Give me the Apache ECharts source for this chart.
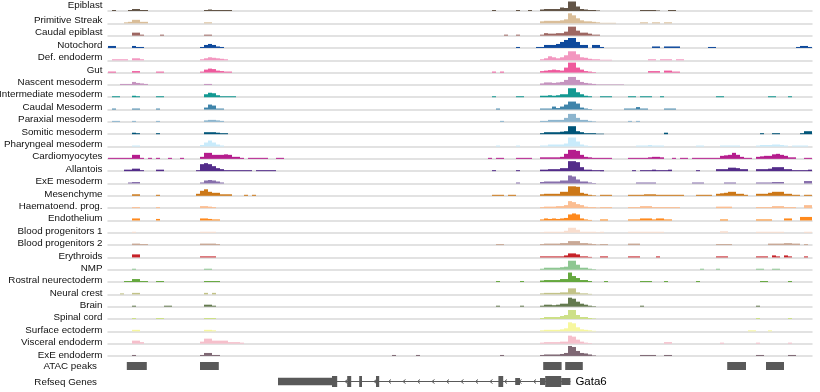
<!DOCTYPE html>
<html><head><meta charset="utf-8">
<script src="https://cdn.jsdelivr.net/npm/echarts@6/dist/echarts.min.js"></script>
<style>html,body{margin:0;padding:0;background:#fff}#c{width:820px;height:392px}</style>
</head><body><div id="c"></div>
<script>
// ---------- DATA ----------
const trackNames = ["Epiblast","Primitive Streak","Caudal epiblast","Notochord","Def. endoderm","Gut","Nascent mesoderm","Intermediate mesoderm","Caudal Mesoderm","Paraxial mesoderm","Somitic mesoderm","Pharyngeal mesoderm","Cardiomyocytes","Allantois","ExE mesoderm","Mesenchyme","Haematoend. prog.","Endothelium","Blood progenitors 1","Blood progenitors 2","Erythroids","NMP","Rostral neurectoderm","Neural crest","Brain","Spinal cord","Surface ectoderm","Visceral endoderm","ExE endoderm"];
const trackColors = ["#635547","#DABE99","#9e6762","#0F4A9C","#F397C0","#EF5A9D","#C594BF","#139992","#3F84AA","#8DB5CE","#005579","#C9EBFB","#B51D8D","#532C8A","#8870ad","#cc7818","#FBBE92","#ff891c","#f9decf","#c9a997","#C72228","#8EC792","#65A83E","#C3C388","#647a4f","#CDE088","#f7f79e","#F6BFCB","#7F6874"];
// runs: [startBin, value, value, ...] ; bins are genomic windows across the locus
const epiblast = [[1,1],[5,1,2,2,1,1],[24,1,1.5,1,1,1,1,1],[96,1],[102,1],[105,1],[108,1.5,2,2,2,2,3.5,3,9.5,9.5,4.5,2,1.5,1,1,0.5],[133,1,1,1,1,0.5],[140,1,1]];
const primitiveStreak = [[4,1,1.5,3.5,3.5,1.5,1.5],[24,1,1],[108,2,2.5,2.5,2.5,2.5,3,4,10,8,5,3,2,2,1.5,1,0.5,0.5,0.5,0.5],[133,1,1,0,1,1,0,1,1]];
const caudalEpiblast = [[6,3,3,1],[13,1],[24,1,1],[99,1],[102,1],[108,1,2.5,2,2,2.5,2.5,4,9,9,5,3,3,2,1,1]];
const notochord = [[0,2,2],[6,2,1,1],[23,1,3,4,3,1.5,1],[102,1],[107,1,1,3,3,3,4,6,8,10,10,6,3,3,0,3,3,1],[136,1.5,1.5],[139,1.5,1.5,1.5,1.5],[150,1,1],[172,1,2,2,1]];
const defEndoderm = [[1,1,1,1,1],[6,2,2,1],[23,1,2,3,2.5,2,1.5,1],[108,1,2,4,3,2,3,5,9,9,6,3,2.5,1.5,1,1,0.5,0.5,0.5],[135,1,1,0,1,1,1,0,1,1]];
const gut = [[0,1,1],[6,1.5,1.5],[12,1,1],[23,1,3,4,3.5,2,1.5,1,1],[96,1,0,1],[108,1.5,2,2.5,3,2.5,2,5,10,10,5,3,1.5,1,0.5],[135,1.5,1.5,1.5,0,2,2,1,1]];
const nascentMesoderm = [[3,1,1,1,3,2,1.5,1],[24,1,1],[108,1.5,2.5,2.5,2,2.5,3,5,8,8,5,3,2,1.5,1,0.5,0.5,0.5,0.5,0.5],[127,0.5,0.5]];
const intermediateMesoderm = [[1,1,1],[6,1.5,1],[12,1,1],[24,3,4.5,4,2,1,1,1,1],[96,1],[102,1,1],[108,1.5,1.5,2,1.5,2,3,3,9,9,5,3,1.5,1],[123,1,1,1],[130,1,1],[133,1,1,1],[138,1],[152,1,1],[165,1,1],[170,1]];
const caudalMesoderm = [[1,1],[6,1,1],[12,1],[24,2,5,4,1,1],[97,1],[108,1,1,1,3,1.5,3,5,8,8,6,2,1,0.5],[129,1,1,1,2.5,1,1],[139,1,1,1]];
const paraxialMesoderm = [[1,1,1],[6,1],[12,1],[24,1.5,2,2,1.5,1],[98,1],[108,1,1,2,2,2,2,4,8,8,4,2,2,1,0.5],[130,1,0,1]];
const somiticMesoderm = [[6,1.5,1],[12,1],[24,2,2,2,1.5,1,1],[108,1,2,2,2,2,2.5,3,8,8,3,2,1,1,1,0.5,0.5],[139,1.5],[163,1],[166,1,1],[173,1,3,3]];
const pharyngealMesoderm = [[6,1,1],[23,1.5,4,6,4,2,1],[97,1],[102,1],[108,1,1,2,2,2,2,3,9,9,5,2,1,0.5],[132,1,1,1,1.5,1,1,1],[147,1,1],[153,1,1,1,1,1],[162,1,1.5,1.5,1.5,2,2,1.5,1],[171,1,1,1,1]];
const cardiomyocytes = [[0,1,1,1,1,1,1,4,4,1],[10,1],[12,1],[15,1],[18,1],[23,2,6,6,4,4,4,4.5,4,2,2,1],[35,1,1,1,1],[39,1],[42,1,1],[95,1,0,1,1],[102,1,1,1,1],[108,1.5,1.5,1.5,1.5,1.5,2,5,9,9,8,4,2,1.5,1,1,1,1,1],[130,1,1,1,1,1,1.5,2,2,1.5],[141,1,0,1,1,0,1],[147,1,1,1,1,1,1,3,3.5,4,6,4,2,1,1],[162,2,2.5,3,3,4.5,5,4,3,1.5,1.5],[174,1,1]];
const allantois = [[4,1.5,1.5,2.5,2.5,1],[12,1.5,1.5],[22,1,7,8,7,5,3,2,1,1,1,1,1,1,1],[37,1,1,1,1,1],[96,1],[102,1],[108,1.5,1.5,2,2,2,3,3,10,10,9,4,1.5,1.5,1,1,0.5],[123,1],[131,1,0,1,1,1,1.5,1,1,1,1.5],[147,1],[152,2,2,2,3.5,3.5,3,2,2],[162,2,2,2,2.5,4,4,4,2,2,1,1,1,1,1.5]];
const exeMesoderm = [[5,1,1.5,1.5],[23,1,3,3.5,3,2,1],[102,1],[108,1.5,2,2,2,2,3,3,8,7,4,2,2,1,0.5],[132,1,1,1,1,1],[146,1,1,1],[154,1,1,1],[162,1,1,1,1,1.5,1.5,1.5],[174,2.5,2.5]];
const mesenchyme = [[6,1.5,1.5],[12,1],[22,2,5,6.5,4,3,3,1.5,1.5,1.5],[34,1],[36,1],[96,1,1,1],[100,1,1],[108,1.5,2,2,2,2,4,4,9.5,9.5,9,3,2,1,0.5],[123,1,1,1],[130,1,1,1,1,1.5,1.5,1.5,1,1,1,1,1,1,1],[147,1,1,1,1],[152,2,2.5,3,4,4,2,2,1],[162,2,2,2,3,4,4,4,2,2,1,1],[174,1,1]];
const haematoendProg = [[6,1,1],[12,1],[23,2,2,1.5,1],[108,1,1.5,1.5,1.5,2,2,3,7,6,4,3,1.5,1,1,0.5],[123,1,1,1],[130,1,1,1,2,2,2,1,1,1,1,1,1,1],[152,1.5,1.5,1.5,1.5],[162,1,1,1,1,2,2,2,1,1,1],[174,3,3]];
const endothelium = [[6,2,2],[12,1.5],[23,2,2,1.5,1,1],[108,1,2,1.5,2,1.5,2,2.5,6,7,6,2,1,0.5],[123,1,1],[130,1,1,1,2,2,2,1,2,2,1,1],[153,1,1],[162,1,1,1,1],[169,2,2],[173,3.5,3.5,3.5]];
const bloodProg1 = [[6,1],[23,1,1,1,1],[108,0.5,1,1,1,1,1,2,5,5,3,1,1,1,1,0.5],[123,1],[130,1,1,1,1,1,1,1,1,1],[153,1.5,1.5],[162,1,1,1,1,1,1,1],[174,1,1]];
const bloodProg2 = [[6,1.5,1.5,1,1],[23,1.5,1.5,1.5,1.5,1],[97,1,1],[108,1,1.5,1.5,1.5,1.5,2,2,4,4,4,2,2,1.5,1,0.5],[123,1,1],[130,1.5,1.5,1.5],[152,1,1,1,1],[165,1.5,1.5,1.5,1.5,2,2,1.5,1.5],[174,1]];
const erythroids = [[6,3,3],[23,1,1,1,1],[108,1,1,1,1,1,1,2,4,4,3,1,1,0.5],[123,1,1],[130,1,1,1],[137,1],[152,1,1,1],[162,1,1,1],[166,2,1],[169,2,1],[174,1]];
const nmp = [[6,1],[24,1,1],[108,1,2,2,2,2,2.5,3,9,9,5,2,2,1,0.5],[148,1],[152,1],[162,1,1],[166,1,1]];
const rostralNeurectoderm = [[4,1,1,3,3,1,1],[12,1,1],[24,1,1,1,1],[97,1],[103,1],[108,1.5,2,2,2,2,3,3,9.5,6,4,2,2,1],[124,1],[133,1,1,1],[139,1],[147,1],[163,1,1],[170,1]];
const neuralCrest = [[3,1],[6,1.5,1.5],[24,1.5,0,1.5],[108,1,1.5,1.5,1.5,1.5,2,2,6,6,2,1,1,0.5]];
const brain = [[6,1],[14,1,1],[24,2,2,1],[97,1],[103,1],[108,1,2,2,1.5,2,3,3,9,8,5,3,2,1,0.5],[133,1],[162,1]];
const spinalCord = [[6,1],[12,1,1],[24,1,1,1],[108,1,2,2,2,2,3,4,9,9,4,2,2,1,0.5],[162,1],[170,1]];
const surfaceEctoderm = [[6,1.5,1.5],[24,1.5,1.5,1],[108,1,1.5,1.5,1.5,1.5,2,3,9,8,4,2,1.5,1,0.5],[160,1,1],[165,1]];
const visceralEndoderm = [[6,3,3,1.5],[23,2,5,5,3,3,3,3,1.5,1.5,1.5,1],[108,1,1.5,1.5,1.5,1.5,2,2,8,7,4,2,1,0.5],[139,1.5,1.5],[153,1],[162,1],[170,1]];
const exeEndoderm = [[6,1],[23,1,3,3,1,1],[71,1],[77,1],[98,1],[108,1,1.5,1.5,1.5,1.5,2,3,10,9,5,3,2.5,1.5,0.5],[133,1,1,1,1],[139,1,1],[162,1,1],[170,1,1]];
const trackRuns = [epiblast,primitiveStreak,caudalEpiblast,notochord,defEndoderm,gut,nascentMesoderm,intermediateMesoderm,caudalMesoderm,paraxialMesoderm,somiticMesoderm,pharyngealMesoderm,cardiomyocytes,allantois,exeMesoderm,mesenchyme,haematoendProg,endothelium,bloodProg1,bloodProg2,erythroids,nmp,rostralNeurectoderm,neuralCrest,brain,spinalCord,surfaceEctoderm,visceralEndoderm,exeEndoderm];
const atacPeaks = [[4.7,9.7],[23,27.7],[108.8,113.4],[114.3,118.7],[154.8,159.5],[164.5,169]];
// gene model: [start, end, blockHeight]
const geneExons = [[42.5,56,7.5],[56,57.3,11],[59.8,60.8,11],[62.8,63.5,11],[67,67.8,11],[97.6,98.8,11],[101.8,103,7],[108,109.3,7],[109.3,113.3,11],[113.3,115.6,7]];
const geneSpan = [[42.5,115.6]];
const geneName = "Gata6";
const extraLabels = ["ATAC peaks","Refseq Genes"];
const NBINS = 176;

// ---------- LAYOUT ----------
const X0 = 108, PW = 704, TH = 11;
const baseY = i => 11 + 12.32 * i;
const labelY = i => i === 0 ? 5 : 8 + 12.39 * i;
const LABEL_FONT = '9.8px "Liberation Sans", Arial, sans-serif';

function expand(runs){
  const out = [];
  runs.forEach(r => { for (let k = 1; k < r.length; k++) if (r[k] > 0) out.push([r[0] + k - 1, r[k]]); });
  return out;
}

const grids = [], xAxes = [], yAxes = [], series = [], graphics = [];
trackNames.forEach((name, i) => {
  grids.push({left: X0, width: PW, top: baseY(i) - TH, height: TH});
  xAxes.push({gridIndex: i, type: 'value', min: 0, max: NBINS,
    axisLine: {show: true, onZero: false, lineStyle: {color: '#d9d9d9', width: 1.5}},
    axisTick: {show: false}, axisLabel: {show: false}, splitLine: {show: false}});
  yAxes.push({gridIndex: i, type: 'value', min: 0, max: TH, show: false});
  series.push({type: 'custom', xAxisIndex: i, yAxisIndex: i, data: expand(trackRuns[i]), silent: true,
    renderItem: (p, api) => {
      const b = api.value(0), v = api.value(1);
      const a = api.coord([b, v]), c = api.coord([b + 1, 0]);
      return {type: 'rect', shape: {x: a[0], y: a[1], width: c[0] - a[0], height: c[1] - a[1]}, style: {fill: trackColors[i]}};
    }});
  graphics.push({type: 'text', x: 102.5, y: labelY(i), silent: true,
    style: {text: name, align: 'right', verticalAlign: 'middle', font: LABEL_FONT, fill: '#111'}});
});
// ATAC track
const ai = trackNames.length;
grids.push({left: X0, width: PW, top: 362, height: 8});
xAxes.push({gridIndex: ai, type: 'value', min: 0, max: NBINS, show: false});
yAxes.push({gridIndex: ai, type: 'value', min: 0, max: 1, show: false});
series.push({type: 'custom', xAxisIndex: ai, yAxisIndex: ai, data: atacPeaks, silent: true,
  renderItem: (p, api) => {
    const a = api.coord([api.value(0), 1]), c = api.coord([api.value(1), 0]);
    return {type: 'rect', shape: {x: a[0], y: a[1], width: c[0] - a[0], height: c[1] - a[1]}, style: {fill: '#595959'}};
  }});
// Gene track
const gi = ai + 1;
grids.push({left: X0, width: PW, top: 376, height: 11});
xAxes.push({gridIndex: gi, type: 'value', min: 0, max: NBINS, show: false});
yAxes.push({gridIndex: gi, type: 'value', min: -5.5, max: 5.5, show: false});
series.push({type: 'custom', xAxisIndex: gi, yAxisIndex: gi, data: geneSpan, silent: true, z: 2,
  renderItem: (p, api) => {
    const a = api.coord([api.value(0), 0]), c = api.coord([api.value(1), 0]);
    const kids = [{type: 'line', shape: {x1: a[0], y1: a[1], x2: c[0], y2: c[1]}, style: {stroke: '#595959', lineWidth: 1}}];
    for (let x = a[0] + 10; x < c[0] - 4; x += 14.5) {
      kids.push({type: 'polyline', shape: {points: [[x + 1.5, a[1] - 2], [x - 1, a[1]], [x + 1.5, a[1] + 2]]}, style: {stroke: '#595959', lineWidth: 1, fill: null}});
    }
    kids.push({type: 'text', x: c[0] + 5, y: c[1], style: {text: geneName, align: 'left', verticalAlign: 'middle', font: '11.5px "Liberation Sans", Arial, sans-serif', fill: '#000'}});
    return {type: 'group', children: kids};
  }});
series.push({type: 'custom', xAxisIndex: gi, yAxisIndex: gi, data: geneExons, silent: true, z: 3,
  renderItem: (p, api) => {
    const h = api.value(2) / 2;
    const a = api.coord([api.value(0), h]), c = api.coord([api.value(1), -h]);
    return {type: 'rect', shape: {x: a[0], y: a[1], width: c[0] - a[0], height: c[1] - a[1]}, style: {fill: '#595959'}};
  }});
graphics.push({type: 'text', x: 97, y: 366.5, silent: true, style: {text: extraLabels[0], align: 'right', verticalAlign: 'middle', font: LABEL_FONT, fill: '#111'}});
graphics.push({type: 'text', x: 97, y: 382, silent: true, style: {text: extraLabels[1], align: 'right', verticalAlign: 'middle', font: LABEL_FONT, fill: '#111'}});

const chart = echarts.init(document.getElementById('c'), null, {renderer: 'canvas'});
chart.setOption({animation: false, backgroundColor: '#fff', grid: grids, xAxis: xAxes, yAxis: yAxes, series: series, graphic: graphics});
</script></body></html>
